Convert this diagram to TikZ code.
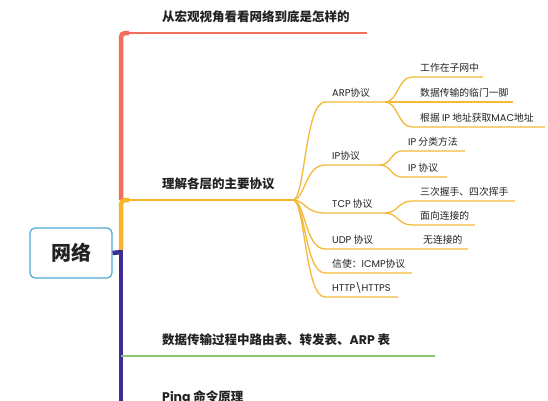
\documentclass[tikz,border=0pt]{standalone}
\usepackage{fontspec}
\setmainfont{Noto Sans CJK SC}
\newfontfamily\lat{Poppins}
\definecolor{rd}{HTML}{F26D5B}
\definecolor{yel}{HTML}{F7B52C}
\definecolor{gold}{HTML}{F3BA3A}
\definecolor{pur}{HTML}{3E2C93}
\definecolor{grn}{HTML}{8DC86E}
\definecolor{blu}{HTML}{4DAAD8}
\definecolor{txt}{HTML}{222222}
\begin{document}
\begin{tikzpicture}[x=1pt,y=-1pt,
  title/.style={anchor=base west, inner sep=0pt, font=\fontsize{12.5}{14}\selectfont\bfseries, text=txt},
  leaf/.style={anchor=base west, inner sep=0pt, font=\fontsize{9.8}{11}\selectfont, text=txt},
  trunk/.style={line width=4.5pt, rounded corners=4pt},
  br/.style={line width=1.8pt},
  sub/.style={draw=gold, line width=1.3pt},
]
\useasboundingbox (0,0) rectangle (548,400);
\fill[white] (0,0) rectangle (548,400);
\clip (0,0) rectangle (548,400);

% junction coordinates
\coordinate (rootJ) at (121,250);
\coordinate (redTop) at (121,33);
\coordinate (redEnd) at (367,33);
\coordinate (yJ) at (121,200);
\coordinate (fan) at (293,200);
\coordinate (gJ) at (121,356);
\coordinate (gEnd) at (435,356);
\coordinate (bottom) at (121,410);
\coordinate (stubJ) at (121,252);

% root
\node[draw=blu, rounded corners=5pt, line width=1.2pt, minimum width=82pt, minimum height=50pt,
      font=\fontsize{20}{24}\selectfont\bfseries, text=txt] (root) at (71,253) {网络};

% trunk
\draw[rd, trunk] (yJ) -- (redTop) -- ++(8,0);
\draw[rd, br] (redTop) -- (redEnd);
\draw[yel, trunk] (rootJ) -- (yJ) -- ++(8,0);
\draw[yel, br] (yJ) -- (fan);
\draw[pur, line width=4.5pt] (rootJ) -- (bottom);
\draw[pur, line width=4.5pt] (root.east) -- (stubJ);
\draw[grn, br] (gJ) -- (gEnd);

% main titles
\node[title] (t1) at (162,21) {从宏观视角看看网络到底是怎样的};
\node[title] (t2) at (162,188) {理解各层的主要协议};
\node[title] (t3) at (162,344) {数据传输过程中路由表、转发表、{\lat ARP} 表};
\node[title] (t4) at (162,401.5) {{\lat Ping} 命令原理};

% second level coordinates
\coordinate (arpS) at (325,102); \coordinate (arpE) at (385,102);
\coordinate (ipS) at (325,165);  \coordinate (ipE) at (380,165);
\coordinate (tcpS) at (325,213); \coordinate (tcpE) at (385,213);
\coordinate (udpS) at (325,249); \coordinate (udpE) at (468,249);
\coordinate (icS) at (325,273);  \coordinate (icE) at (412,273);
\coordinate (htS) at (325,297);  \coordinate (htE) at (398,297);

\draw[sub] (fan) .. controls (305,200) and (305,102) .. (arpS) -- (arpE);
\draw[sub] (fan) .. controls (305,200) and (305,165) .. (ipS) -- (ipE);
\draw[sub] (fan) .. controls (305,200) and (305,213) .. (tcpS) -- (tcpE);
\draw[sub] (fan) .. controls (305,200) and (305,249) .. (udpS) -- (udpE);
\draw[sub] (fan) .. controls (305,200) and (305,273) .. (icS) -- (icE);
\draw[sub] (fan) .. controls (305,200) and (305,297) .. (htS) -- (htE);

% third level coordinates
\coordinate (a1S) at (412,77);  \coordinate (a1E) at (483,77);
\coordinate (a2E) at (513,102);
\coordinate (a3S) at (412,127); \coordinate (a3E) at (545,127);
\coordinate (i1S) at (402,151); \coordinate (i1E) at (465,151);
\coordinate (i2S) at (402,177); \coordinate (i2E) at (447,177);
\coordinate (c1S) at (412,201); \coordinate (c1E) at (515,201);
\coordinate (c2S) at (412,225); \coordinate (c2E) at (475,225);

\draw[sub] (arpE) .. controls (398,102) and (398,77) .. (a1S) -- (a1E);
\draw[sub] (arpE) -- (a2E);
\draw[sub] (arpE) .. controls (398,102) and (398,127) .. (a3S) -- (a3E);
\draw[sub] (ipE) .. controls (391,165) and (391,151) .. (i1S) -- (i1E);
\draw[sub] (ipE) .. controls (391,165) and (391,177) .. (i2S) -- (i2E);
\draw[sub] (tcpE) .. controls (398,213) and (398,201) .. (c1S) -- (c1E);
\draw[sub] (tcpE) .. controls (398,213) and (398,225) .. (c2S) -- (c2E);

% leaf texts
\node[leaf] (arp) at (332,96.5) {{\lat ARP}协议};
\node[leaf] (a1) at (420,71.5) {工作在子网中};
\node[leaf] (a2) at (420,96.5) {数据传输的临门一脚};
\node[leaf] (a3) at (420,121.5) {根据 {\lat IP} 地址获取{\lat MAC}地址};
\node[leaf] (ip) at (332,159.5) {{\lat IP}协议};
\node[leaf] (i1) at (408,145.5) {{\lat IP} 分类方法};
\node[leaf] (i2) at (408,171.5) {{\lat IP} 协议};
\node[leaf] (tcp) at (332,207.5) {{\lat TCP} 协议};
\node[leaf] (c1) at (420,195.5) {三次握手、四次挥手};
\node[leaf] (c2) at (420,219.5) {面向连接的};
\node[leaf] (udp) at (332,243.5) {{\lat UDP} 协议};
\node[leaf] (u1) at (423,243.5) {无连接的};
\node[leaf] (icmp) at (332,267.5) {信使：{\lat ICMP}协议};
\node[leaf] (http) at (332,291.5) {{\lat HTTP\textbackslash HTTPS}};
\end{tikzpicture}
\end{document}
